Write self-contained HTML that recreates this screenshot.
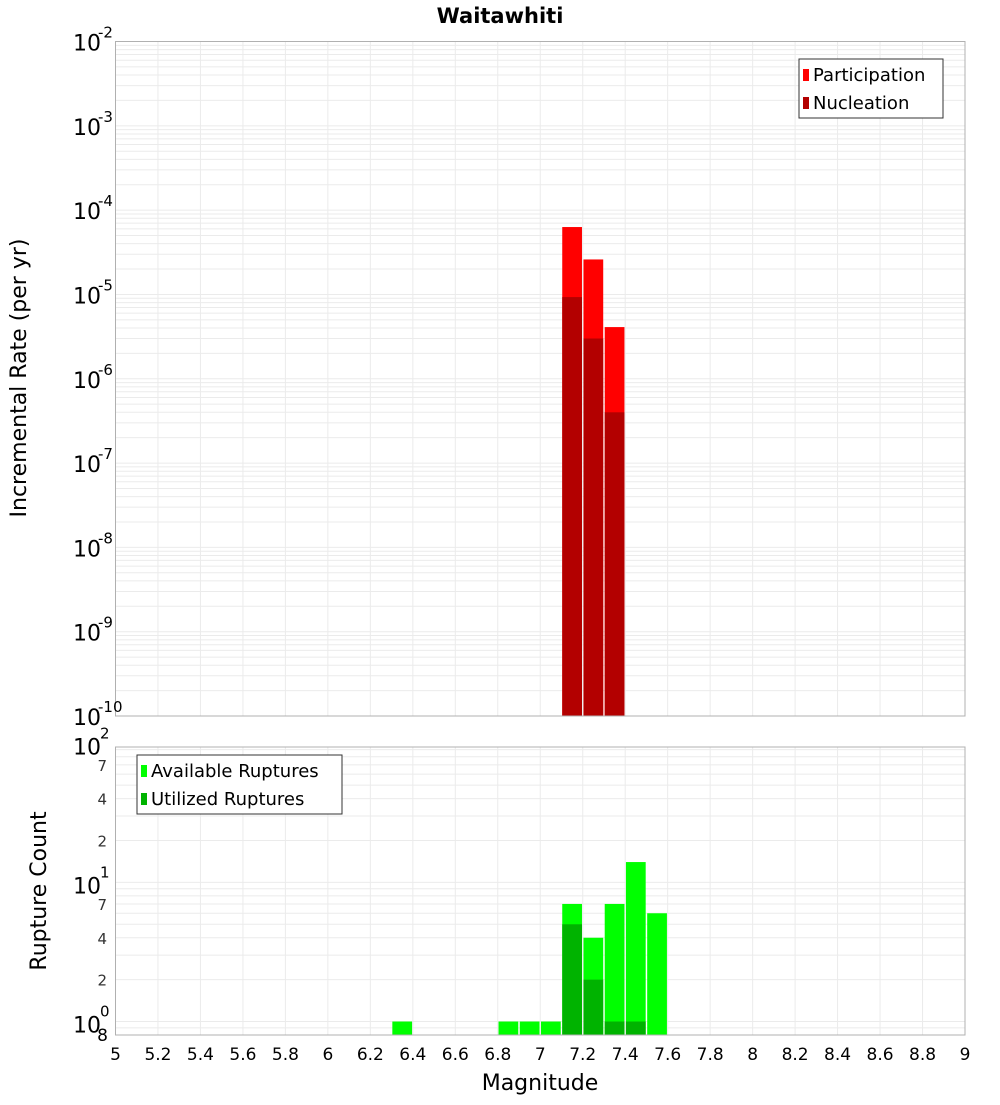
<!DOCTYPE html>
<html><head><meta charset="utf-8"><style>
body{margin:0;background:#fff;font-family:"Liberation Sans","DejaVu Sans",sans-serif;}
svg text{font-family:"DejaVu Sans","Liberation Sans",sans-serif;}
</style></head><body>
<svg id="c" width="1000" height="1100" xmlns="http://www.w3.org/2000/svg">
<text x="500" y="23" text-anchor="middle" font-size="21" font-weight="bold">Waitawhiti</text>
<text transform="translate(26,378) rotate(-90)" text-anchor="middle" font-size="22">Incremental Rate (per yr)</text>
<text transform="translate(46,891) rotate(-90)" text-anchor="middle" font-size="22">Rupture Count</text>
<text x="540" y="1090" text-anchor="middle" font-size="22">Magnitude</text>
<g id="g"></g>
</svg>
<script>
const mags=[6.35,6.85,6.95,7.05,7.15,7.25,7.35,7.45,7.55];
const available=[1,1,1,1,7,4,7,14,6];
const utilized=[0,0,0,0,5,2,1,1,0];
const rateMags=[7.15,7.25,7.35];
const participation=[6.3e-5,2.6e-5,4.1e-6];
const nucleation=[9.3e-6,3.0e-6,4.0e-7];
const xTicks=["5","5.2","5.4","5.6","5.8","6","6.2","6.4","6.6","6.8","7","7.2","7.4","7.6","7.8","8","8.2","8.4","8.6","8.8","9"];
const topExps=[-2,-3,-4,-5,-6,-7,-8,-9,-10];
const botMinor=[7,4,2];

const NS="http://www.w3.org/2000/svg";
const g=document.getElementById('g');
function el(t,a,p){const e=document.createElementNS(NS,t);for(const k in a)e.setAttribute(k,a[k]);(p||g).appendChild(e);return e;}
const L=115.5,R=965,T1=41.5,B1=716,T2=747,B2=1035;
const X=v=>L+(v-5)/4*(R-L);
const Y1=v=>T1+(-2-Math.log10(v))/8*(B1-T1);
const bMin=0.8,bMax=94;
const Y2=v=>B2-(Math.log10(v)-Math.log10(bMin))/(Math.log10(bMax)-Math.log10(bMin))*(B2-T2);
const bw=X(5.1)-X(5)-1.5;
// grids
for(const [T,B] of [[T1,B1],[T2,B2]]){
  for(let i=0;i<=20;i++){const x=X(5+i*0.2);const l=el('line',{x1:x,x2:x,y1:T,y2:B,stroke:'#ebebeb'});
    
    }
}
for(let e=-10;e<-2;e++)for(let m=1;m<10;m++){const y=Y1(m*Math.pow(10,e));
  const l=el('line',{x1:L,x2:R,y1:y,y2:y,stroke:'#ebebeb'});
  
  }
for(let e=-1;e<2;e++)for(let m=1;m<10;m++){const v=m*Math.pow(10,e);if(v<bMin||v>bMax)continue;const y=Y2(v);
  const l=el('line',{x1:L,x2:R,y1:y,y2:y,stroke:'#ebebeb'});
  
  }
// top bars
rateMags.forEach((m,i)=>{
  const x=X(m-0.05)+0.75;
  const p=el('rect',{x:x,y:Y1(participation[i]),width:bw,height:B1-Y1(participation[i]),fill:'#ff0000'});
  
  
  const n=el('rect',{x:x,y:Y1(nucleation[i]),width:bw,height:B1-Y1(nucleation[i]),fill:'#b30000'});
  
  
});
mags.forEach((m,i)=>{
  const x=X(m-0.05)+0.75;
  const a=el('rect',{x:x,y:Y2(available[i]),width:bw,height:B2-Y2(available[i]),fill:'#00ff00'});
  
  
  if(utilized[i]>0){const u=el('rect',{x:x,y:Y2(utilized[i]),width:bw,height:B2-Y2(utilized[i]),fill:'#00b300'});
  
  }
});
// frames
const f1=el('rect',{x:L,y:T1,width:R-L,height:B1-T1,fill:'none',stroke:'#b0b0b0'});


const f2=el('rect',{x:L,y:T2,width:R-L,height:B2-T2,fill:'none',stroke:'#b0b0b0'});


// x ticks
xTicks.forEach(t=>{const tx=el('text',{x:X(+t),y:1060,'text-anchor':'middle','font-size':17});tx.textContent=t;
  
  });
// top y labels
topExps.forEach(e=>{const y=Y1(Math.pow(10,e));
  const t=el('text',{x:73,y:y+9,'font-size':22});t.textContent='10';
  
  
  const s=el('text',{x:98,y:y-4,'font-size':15});s.textContent=String(e);
  
  });
// bottom y labels
[[100,'2'],[10,'1'],[1,'0']].forEach(([v,e])=>{const y=Y2(v);
  const t=el('text',{x:73,y:y+11,'font-size':22});t.textContent='10';
  
  
  const s=el('text',{x:100,y:y-5,'font-size':15});s.textContent=e;
  
  });
[70,40,20,7,4,2].forEach(v=>{const t=el('text',{x:107,y:Y2(v)+6,'font-size':15,'text-anchor':'end',fill:'#333'});t.textContent=String(v).charAt(0);
  
  });
const t8=el('text',{x:108,y:1041,'font-size':17,'text-anchor':'end'});t8.textContent='8';


// legends
function legend(x,y,w,h,items,name){const lg=el('g',{});
  
  
  el('rect',{x:x,y:y,width:w,height:h,fill:'#fff',stroke:'#333'},lg);
  items.forEach(([c,s],i)=>{el('rect',{x:x+4,y:y+10+i*28,width:6,height:12,fill:c},lg);
    const t=el('text',{x:x+14,y:y+22+i*28,'font-size':18},lg);t.textContent=s;});}
legend(799,59,144,59,[['#ff0000','Participation'],['#b30000','Nucleation']],'top-legend');
legend(137,755,205,59,[['#00ff00','Available Ruptures'],['#00b300','Utilized Ruptures']],'bottom-legend');
</script>
</body></html>
